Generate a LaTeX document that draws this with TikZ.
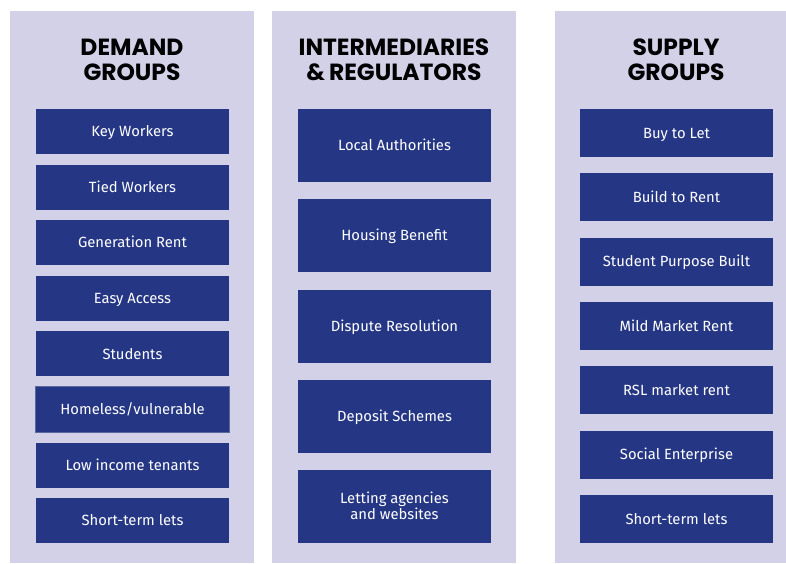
\documentclass[tikz,border=0pt]{standalone}
\usepackage{fontspec}
\setmainfont{Fira Sans}
\newfontfamily\titlefont{Poppins}
\definecolor{lav}{RGB}{211,209,231}
\definecolor{navy}{RGB}{37,55,132}
\definecolor{edge}{RGB}{90,104,160}
\begin{document}
\begin{tikzpicture}[x=1pt,y=1pt,
  panel/.style={fill=lav,draw=none},
  box/.style={fill=navy,draw=none,text=white,font=\fontsize{14.8}{16.7}\selectfont,align=center,inner sep=0pt,text height=10.2pt,text depth=0pt},
  ttl/.style={anchor=base,font=\titlefont\bfseries\fontsize{23.4}{25}\selectfont,text=black,inner sep=0pt}]
\useasboundingbox (0,0) rectangle (786,-563);
\fill[white] (0,0) rectangle (786,-563);
% panels
\path[panel] (10,-11) rectangle (254,-563);
\path[panel] (272,-11) rectangle (516,-563);
\path[panel] (555,-11) rectangle (786,-563);
% titles
\node[ttl] (t1a) at (132,-55) {DEMAND};
\node[ttl] (t1b) at (132,-80.5) {GROUPS};
\node[ttl] (t2a) at (394,-55) {INTERMEDIARIES};
\node[ttl] (t2b) at (394,-80.5) {\&\,REGULATORS};
\node[ttl] (t3a) at (676,-55) {SUPPLY};
\node[ttl] (t3b) at (676,-80.5) {GROUPS};
% demand column
\foreach \i/\t in {0/Key Workers,1/Tied Workers,2/Generation Rent,3/Easy Access,4/Students,5/{Homeless/vulnerable},6/Low income tenants,7/Short-term lets}{
  \node[box,minimum width=193,minimum height=45] (d\i) at (132.5,{-131.5-55.6*\i}) {\t};
}
\draw[edge,line width=0.7pt] (d5.south west) rectangle (d5.north east);
% intermediaries
\foreach \i/\t in {0/Local Authorities,1/Housing Benefit,2/Dispute Resolution,3/Deposit Schemes}{
  \node[box,minimum width=193,minimum height=73] (m\i) at (394.5,{-145.5-90.25*\i}) {\t};
}
\node[box,minimum width=193,minimum height=73,text height=26.9pt] (m4) at (394.5,-506.5)
  {\begin{tabular}[b]{@{}c@{}}Letting agencies\\and websites\end{tabular}};
% supply
\foreach \i/\t in {0/Buy to Let,1/Build to Rent,2/Student Purpose Built,3/Mild Market Rent,4/RSL market rent,5/Social Enterprise,6/Short-term lets}{
  \node[box,minimum width=193,minimum height=48] (s\i) at (676.5,{-133-64.33*\i}) {\t};
}
\end{tikzpicture}
\end{document}
